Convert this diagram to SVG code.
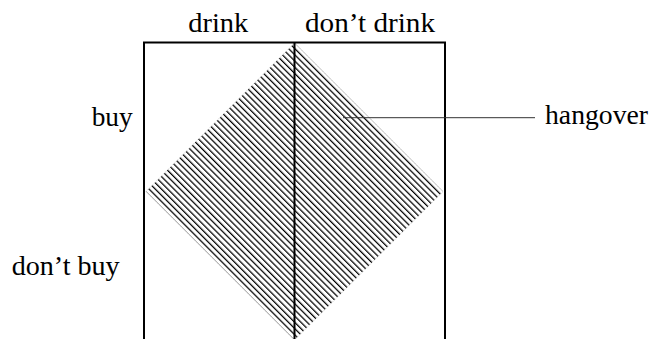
<svg xmlns="http://www.w3.org/2000/svg" width="651" height="339" viewBox="0 0 651 339">
  <style>
    .lbl { font-family: "Liberation Serif", "Times New Roman", serif; font-size: 27px; fill: #000; }
    .frame { fill: none; stroke: #000; stroke-width: 2; }
    .leader { fill: none; stroke: #333; stroke-width: 1; }
  </style>
  <defs>
    <pattern id="nwlines" patternUnits="userSpaceOnUse" width="4.4" height="10" patternTransform="translate(294.5 43) rotate(-45)">
      <rect x="0" y="0" width="1.25" height="10" fill="#000"/>
    </pattern>
  </defs>
  <rect width="651" height="339" fill="#fff"/>
  <g id="hangover-region">
    <polygon points="294.5,43 443,191.5 294.5,340 146,191.5" fill="url(#nwlines)" stroke="#aaa" stroke-width="0.6" stroke-dasharray="1 1.5"/>
  </g>
  <g id="table">
    <path class="frame" d="M144,345 V42.5 H445 V345"/>
    <line class="frame" x1="294.5" y1="42.5" x2="294.5" y2="345"/>
  </g>
  <g id="connectors">
    <line class="leader" x1="343" y1="117.7" x2="535" y2="117.7"/>
  </g>
  <g id="label-drink"><text class="lbl" x="188.3" y="31.7" textLength="60" lengthAdjust="spacingAndGlyphs">drink</text></g>
  <g id="label-dont-drink"><text class="lbl" x="305" y="31.7" textLength="130" lengthAdjust="spacingAndGlyphs">don’t drink</text></g>
  <g id="label-buy"><text class="lbl" x="91.7" y="126" textLength="41" lengthAdjust="spacingAndGlyphs">buy</text></g>
  <g id="label-dont-buy"><text class="lbl" x="11.7" y="274.5" textLength="108" lengthAdjust="spacingAndGlyphs">don’t buy</text></g>
  <g id="label-hangover"><text class="lbl" x="545" y="124" textLength="103" lengthAdjust="spacingAndGlyphs">hangover</text></g>
</svg>
